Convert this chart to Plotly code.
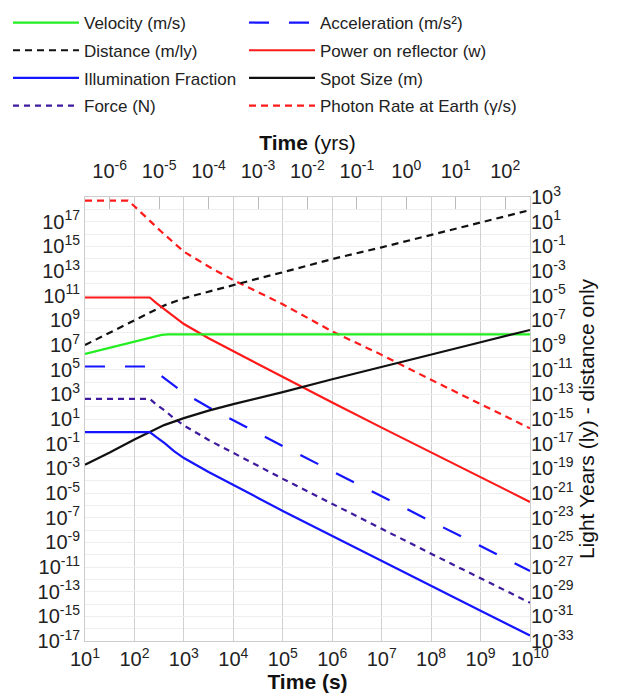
import plotly.graph_objects as go

SECONDS_PER_YEAR = 3.156e7

# ---- data ----
# common time grid for the sail-illumination related series (s)
t_main = [1e1, 2.04e2, 2.82e2, 4.07e2, 6.31e2, 1e3, 3.16e3, 1e4, 3.16e4, 1e5, 1e6, 1e7, 1e8, 1e9, 1e10]
illumination = [0.87, 0.87, 0.32, 0.11, 0.025, 6.8e-3, 5.0e-4, 4.7e-5, 4.0e-6, 3.5e-7, 3.2e-9, 3.0e-11, 2.8e-13, 2.8e-15, 2.8e-17]
force_n = [427, 427, 141, 50, 11.2, 3.0, 0.20, 0.019, 1.6e-3, 1.4e-4, 1.26e-6, 1.26e-8, 1.2e-10, 1.2e-12, 1.26e-14]
accel = [1.8e5, 1.8e5, 6.0e4, 2.0e4, 4.6e3, 1.26e3, 89, 8.5, 0.71, 0.063, 5.6e-4, 5.4e-6, 5.0e-8, 5.0e-10, 4.7e-12]
power_w = [7.1e10, 7.1e10, 2.4e10, 7.9e9, 1.8e9, 5.0e8, 3.5e7, 3.2e6, 2.6e5, 2.4e4, 214, 2.0, 0.020, 1.9e-4, 1.9e-6]

t_vel = [1e1, 2.04e2, 2.82e2, 3.55e2, 4.79e2, 1e10]
velocity = [1.9e6, 3.5e7, 5.2e7, 6.6e7, 7.4e7, 7.4e7]

t_dist = [1e1, 3.16e1, 1e2, 2.04e2, 3.98e2, 1e3, 3.16e3, 1e4, 3.98e4, 1e5, 1e6, 1e7, 1e8, 1e9, 1e10]
distance_m = [1.0e7, 1.0e8, 1.1e9, 4.2e9, 1.6e10, 6.2e10, 2.2e11, 7.1e11, 3.1e12, 7.9e12, 9.3e13, 8.3e14, 8.5e15, 8.5e16, 8.7e17]
spot_m = [1.95e-3, 0.019, 0.22, 0.87, 3.2, 11.7, 48, 160, 590, 1.5e3, 1.66e4, 1.6e5, 1.66e6, 1.66e7, 1.66e8]

t_photon = [1e1, 7.4e1, 1e2, 1.78e2, 3.47e2, 1e3, 3.63e3, 1e4, 3.98e4, 1e5, 1e6, 1e7, 1e8, 1e9, 1e10]
photon_rate = [5.0e18, 5.0e18, 1.78e18, 2.0e17, 1.58e16, 3.7e14, 1.66e13, 1.86e12, 1.15e11, 2.0e10, 1.26e8, 1.58e6, 1.5e4, 158, 1.74]

# axis tick exponents
x_exps = list(range(1, 11))
yr_exps = list(range(-6, 3))
left_label_exps = list(range(-17, 18, 2))
left_minor_exps = list(range(-16, 20, 2))
right_exps = list(range(-33, 4, 2))

FONT = "Liberation Sans, Arial, sans-serif"
GREEN = "#22EE22"
BLUE = "#1515FF"
RED = "#FF1A1A"
PURPLE = "#3D1A9E"
BLACK = "#111111"

W, H = 621, 698
ML, MR, MT, MB = 77, 99, 189, 65
PW, PH = W - ML - MR, H - MT - MB

fig = go.Figure()

def add(x, y, name, color, dash, legend, rank):
    fig.add_trace(go.Scatter(
        x=x, y=y, name=name, mode="lines",
        line=dict(color=color, width=2.2, dash=dash),
        legend=legend, legendgroup=name, legendrank=rank,
        hoverinfo="x+y+name"))

# draw order (back to front); legend columns and rows assigned explicitly
add(t_photon, photon_rate, "Photon Rate at Earth (\u03b3/s)", RED, "7px,5px", "legend2", 4)
add(t_dist, distance_m, "Distance (m/ly)", BLACK, "7px,5px", "legend", 2)
add(t_main, power_w, "Power on reflector (w)", RED, "solid", "legend2", 2)
add(t_vel, velocity, "Velocity (m/s)", GREEN, "solid", "legend", 1)
add(t_main, accel, "Acceleration (m/s\u00b2)", BLUE, "20px,20px", "legend2", 1)
add(t_main, force_n, "Force (N)", PURPLE, "6px,5px", "legend", 4)
add(t_dist, spot_m, "Spot Size (m)", BLACK, "solid", "legend2", 3)
add(t_main, illumination, "Illumination Fraction", BLUE, "solid", "legend", 3)

# invisible helper trace for the secondary axes
fig.add_trace(go.Scatter(x=[None], y=[None], xaxis="x2", yaxis="y2",
                         showlegend=False, hoverinfo="skip", mode="lines"))

def sup(e):
    return "10<sup>%d</sup>" % e

tick_font = dict(family=FONT, size=20, color="#222")

def legend_col(x_px, top_px):
    return dict(
        orientation="v", xref="paper", yref="paper",
        x=(x_px - ML) / PW, y=1.0 + (MT - top_px) / PH, xanchor="left", yanchor="top",
        itemwidth=66, tracegroupgap=2.6,
        font=dict(family=FONT, size=17, color="#222"),
        bgcolor="rgba(0,0,0,0)", traceorder="grouped",
    )

fig.update_layout(
    width=W, height=H,
    paper_bgcolor="white", plot_bgcolor="white",
    margin=dict(l=ML, r=MR, t=MT, b=MB, autoexpand=False),
    font=dict(family=FONT, size=17, color="#222"),
    showlegend=True,
    legend=legend_col(0, -3),
    legend2=legend_col(236, -3),
    xaxis=dict(
        type="log", range=[1, 10],
        tickvals=[10 ** e for e in x_exps], ticktext=[sup(e) for e in x_exps],
        tickfont=tick_font, ticks="", showgrid=True, gridcolor="#D0D0D0", gridwidth=1,
        showline=True, linecolor="#CCCCCC", mirror=True, zeroline=False,
        title=dict(text="<b>Time (s)</b>", font=dict(family=FONT, size=21, color="#111"), standoff=5),
    ),
    yaxis=dict(
        type="log", range=[-17, 19],
        tickvals=[10 ** e for e in left_label_exps],
        ticktext=[sup(e) for e in left_label_exps],
        tickfont=tick_font, ticks="", showgrid=True, gridcolor="#EEEEEE", gridwidth=1,
        minor=dict(tickvals=[10 ** e for e in left_minor_exps], showgrid=True,
                   gridcolor="#EEEEEE", gridwidth=1, ticks=""),
        showline=True, linecolor="#CCCCCC", mirror=True, zeroline=False,
    ),
    xaxis2=dict(
        type="log", overlaying="x", side="top", anchor="y",
        range=[1 - 7.49914, 10 - 7.49914],
        tickvals=[10 ** e for e in yr_exps], ticktext=[sup(e) for e in yr_exps],
        tickfont=tick_font, ticks="inside", ticklen=12, tickcolor="#BBBBBB",
        ticklabelstandoff=14,
        showgrid=False, showline=False, zeroline=False,
        title=dict(text="<b>Time</b> (yrs)", font=dict(family=FONT, size=21, color="#111"), standoff=0),
    ),
    yaxis2=dict(
        type="log", overlaying="y", side="right", anchor="x",
        range=[-33, 3],
        tickvals=[10 ** e for e in right_exps], ticktext=[sup(e) for e in right_exps],
        tickfont=tick_font, ticks="", showgrid=False, showline=False, zeroline=False,
        title=dict(text="Light Years (ly) - distance only", font=dict(family=FONT, size=21, color="#111"), standoff=6),
    ),
)

fig.write_html("out.html")
